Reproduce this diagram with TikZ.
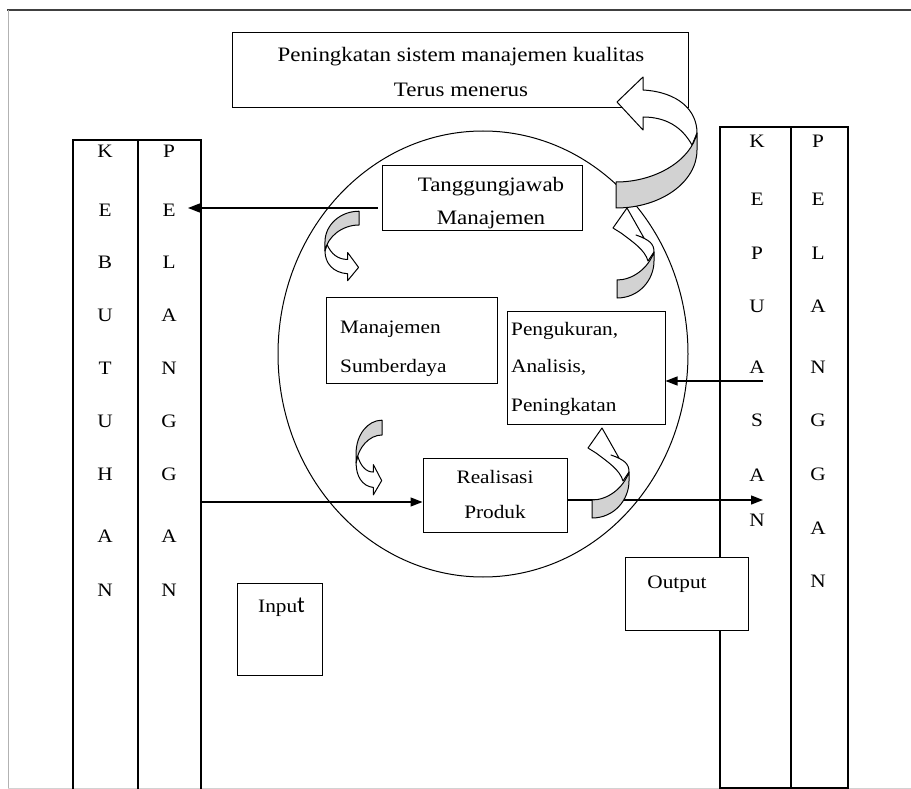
\documentclass[tikz,border=0pt]{standalone}
\usepackage{fontspec}
\setmainfont{Liberation Serif}[FakeStretch=1.12]
\newfontfamily\carl{Carlito}
\usetikzlibrary{arrows.meta,shapes.geometric}
\newcommand{\curvB}{%
 \draw[cur, fill=white] (1,-80) -- (27,-105) -- (27,-92) .. controls (62,-90) and (81,-72) .. (81,-49) -- (76,-37) .. controls (66,-55) and (50,-65) .. (27,-65) -- (27,-52) -- cycle;
 \draw[cur, fill=gray!35] (0,0) -- (0,26) .. controls (45,26) and (81,0) .. (81,-32) -- (81,-49) .. controls (75,-22) and (40,0) .. (0,0) -- cycle;
}
\newcommand{\curvA}{%
 \draw[cur, fill=white] (10,-72) -- (27,-42) -- (19,-45) .. controls (33,-40) and (37,-36) .. (37,-28) -- (31,-19) .. controls (28,-30) and (16,-38) .. (4,-47) -- (-4,-52) -- cycle;
 \draw[cur, fill=gray!35] (0,0) -- (0,18) .. controls (22,18) and (37,0) .. (37,-19) -- (37,-28) .. controls (31,-11) and (15,0) .. (0,0) -- cycle;
}
\begin{document}
\begin{tikzpicture}[x=1pt,y=-1pt,
  txt/.style={inner sep=0pt, font=\fontsize{19}{22}\selectfont},
  big/.style={font=\fontsize{20.5}{24}\selectfont},
  box/.style={draw, line width=1pt, inner sep=0pt, fill=white},
  col/.style={draw, line width=1.4pt, inner sep=0pt},
  arr/.style={line width=1.3pt, -{Triangle[length=12pt,width=9pt]}},
  cur/.style={line width=1pt, line join=round},
]
\useasboundingbox (0,0) rectangle (911,789);
\clip (0,0) rectangle (911,789);
% frame
\draw[line width=1.8pt, black!75] (7,10) -- (911,10);
\draw[line width=1pt, gray!60] (8,10) -- (8,789);
\draw[line width=1pt, gray!35] (8,788) -- (911,788);
% circle
\node[draw, ellipse, line width=1pt, minimum width=410pt, minimum height=446pt, inner sep=0pt] (circ) at (483,354) {};
% columns
\node[col, minimum width=65pt, minimum height=660pt] (lc1) at (105.5,470) {};
\node[col, minimum width=63pt, minimum height=660pt] (lc2) at (169.5,470) {};
\node[col, minimum width=71pt, minimum height=661pt] (rc1) at (755.5,457.5) {};
\node[col, minimum width=57pt, minimum height=661pt] (rc2) at (819.5,457.5) {};
% boxes
\node[box, minimum width=456pt, minimum height=75pt] (top) at (460,70.5) {};
\node[box, minimum width=200pt, minimum height=64pt] (tj) at (482,198) {};
\node[box, minimum width=171pt, minimum height=86pt] (ms) at (411.5,340) {};
\node[box, minimum width=158pt, minimum height=113pt] (pak) at (586,367.5) {};
\node[box, minimum width=144pt, minimum height=74pt] (rp) at (495,495) {};
\node[box, minimum width=85pt, minimum height=92pt] (inb) at (279.5,629) {};
\node[box, minimum width=123pt, minimum height=73pt] (outb) at (686.5,593.5) {};
% texts
\node[txt, big, anchor=base] (t1) at (461,62) {Peningkatan sistem manajemen kualitas};
\node[txt, big, anchor=base] (t2) at (461,97) {Terus menerus};
\node[txt, big, anchor=base] (t3) at (491,192) {Tanggungjawab};
\node[txt, big, anchor=base] (t4) at (491,224) {Manajemen};
\node[txt, anchor=base west] (t5) at (340,333) {Manajemen};
\node[txt, anchor=base west] (t6) at (340,372) {Sumberdaya};
\node[txt, anchor=base west] (t7) at (511,335) {Pengukuran,};
\node[txt, anchor=base west] (t8) at (511,372) {Analisis,};
\node[txt, anchor=base west] (t9) at (511,411) {Peningkatan};
\node[txt, anchor=base] (t10) at (495,483) {Realisasi};
\node[txt, anchor=base] (t11) at (495,518) {Produk};
\node[txt, anchor=base west] (t12) at (258,612) {Inpu{\carl\fontsize{23}{24}\selectfont t}};
\node[txt, anchor=base] (t13) at (677,588) {Output};
% letters
\foreach \l/\y [count=\i] in {K/152,E/210,B/262,U/315,T/368,U/421,H/474,A/536,N/590}
  \node[txt, anchor=base] (la\i) at (105,\y+6) {\l};
\foreach \l/\y [count=\i] in {P/152,E/210,L/262,A/315,N/368,G/421,G/474,A/536,N/590}
  \node[txt, anchor=base] (lb\i) at (169,\y+6) {\l};
\foreach \l/\y [count=\i] in {K/142,E/200,P/253,U/306,A/367,S/420,A/475,N/520}
  \node[txt, anchor=base] (ra\i) at (757,\y+6) {\l};
\foreach \l/\y [count=\i] in {P/142,E/200,L/253,A/306,N/367,G/420,G/474,A/528,N/581}
  \node[txt, anchor=base] (rb\i) at (818,\y+6) {\l};
% connectors
\coordinate (pE) at (188,208);
\draw[arr, shorten <=4pt] (tj.west |- pE) -- (pE);
\coordinate (kA) at (763,381);
\draw[arr] (kA) -- (kA -| pak.east);
\coordinate (inL) at (300,502);
\draw[arr] (lc2.east |- inL) -- (inL -| rp.west);
\coordinate (oR) at (763,500);
\draw[arr] (rp.east |- oR) -- (oR);
% curved arrows
\begin{scope}[shift={(616,182)}] \curvB \end{scope}
\begin{scope}[shift={(359,225)}, rotate=180, xscale=0.42, yscale=0.53] \curvB \end{scope}
\begin{scope}[shift={(382,435)}, rotate=180, xscale=0.32, yscale=0.57] \curvB \end{scope}
\begin{scope}[shift={(617,280)}] \curvA \end{scope}
\begin{scope}[shift={(592,500)}] \curvA \end{scope}
\end{tikzpicture}
\end{document}
